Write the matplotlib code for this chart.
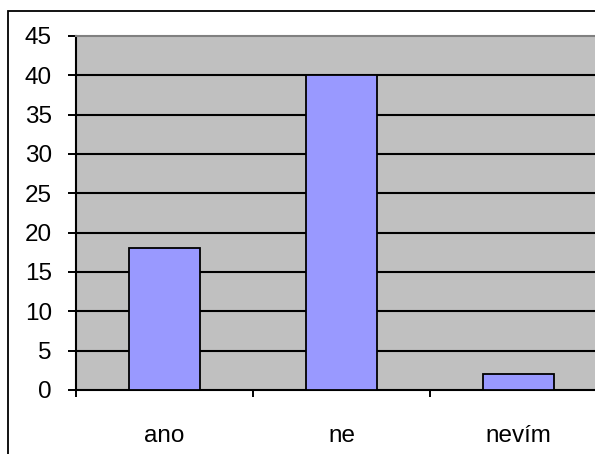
import matplotlib.pyplot as plt
from matplotlib.patches import Rectangle

# data
categories = ["ano", "ne", "nevím"]
values = [18, 40, 2]
yticks = list(range(0, 50, 5))

plt.rcParams['font.family'] = ['Liberation Sans', 'DejaVu Sans']

W, H = 595, 454
fig = plt.figure(figsize=(W / 100, H / 100), dpi=100)

# plot area runs past the right edge of the picture (cropped chart)
left, right, top, bottom = 76, 607, 36, 390
ax = fig.add_axes([left / W, 1 - bottom / H, (right - left) / W, (bottom - top) / H])
ax.set_facecolor("#C0C0C0")

x = range(len(categories))
ax.bar(x, values, width=0.4, color="#9999FF", edgecolor="black", linewidth=1.3, zorder=3)

ax.set_xlim(-0.5, len(categories) - 0.5)
ax.set_ylim(0, 45)
ax.set_yticks(yticks)
ax.tick_params(axis="y", direction="out", length=5.8, width=1.4, pad=11.5, labelsize=17.5)
for yv in yticks[1:-1]:
    ax.axhline(yv, color="black", linewidth=1.5, zorder=1)

# category ticks at boundaries, labels centered
ax.set_xticks([i - 0.5 for i in range(len(categories) + 1)])
ax.set_xticklabels([])
ax.set_xticks(list(x), minor=True)
ax.set_xticklabels(categories, minor=True)
ax.tick_params(axis="x", which="major", direction="out", length=5, width=1.4)
ax.tick_params(axis="x", which="minor", length=0, pad=25, labelsize=17.5)

ax.spines["right"].set_visible(False)
ax.spines["top"].set_color("#808080")
ax.spines["top"].set_linewidth(1.5)
ax.spines["left"].set_linewidth(1.5)
ax.spines["bottom"].set_linewidth(1.5)

# outer chart border
fig.patches.append(Rectangle((8 / W, -0.1), 1.2, 1 - 11 / H + 0.1, transform=fig.transFigure,
                             fill=False, edgecolor="black", linewidth=1.3))

fig.savefig("out.png", dpi=100)
